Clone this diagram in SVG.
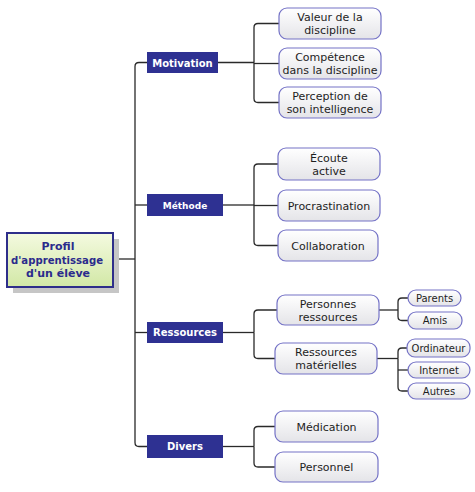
<svg xmlns="http://www.w3.org/2000/svg" width="475" height="492" viewBox="0 0 475 492">
<defs>
<linearGradient id="gRoot" x1="0" y1="0" x2="0" y2="1"><stop offset="0" stop-color="#f4fae0"/><stop offset="1" stop-color="#d2e8a6"/></linearGradient>
<linearGradient id="gSub" x1="0" y1="0" x2="0" y2="1"><stop offset="0" stop-color="#ffffff"/><stop offset="1" stop-color="#e4e4e8"/></linearGradient>
</defs>
<style>
.conn{fill:none;stroke:#2a2a2a;stroke-width:1.3}
.topic rect{fill:#2e3192}
.topic text{fill:#ffffff;font-family:"DejaVu Sans",Verdana,sans-serif;font-weight:bold;font-size:10px;text-anchor:middle}
.sub rect{fill:url(#gSub);stroke:#7472c6;stroke-width:1.2}
.sub text{fill:#1e1e1e;font-family:"DejaVu Sans",Verdana,sans-serif;font-size:11px;text-anchor:middle}
.leaf text{font-size:10px}
</style>
<rect width="475" height="492" fill="#ffffff"/>
<g id="connectors" class="conn">
<path d="M113,259 H135"/>
<path d="M147,62.5 H139 Q135,62.5 135,66.5 V442.5 Q135,446.5 139,446.5 H147"/>
<path d="M135,205 H147"/>
<path d="M135,332.5 H147"/>
<path d="M218,62.5 H254"/>
<path d="M254,62.5 V27.5 Q254,23.5 258,23.5 H279"/>
<path d="M254,63.5 H279"/>
<path d="M254,62.5 V98.5 Q254,102.5 258,102.5 H279"/>
<path d="M223,205 H254"/>
<path d="M254,205 V168 Q254,164 258,164 H278"/>
<path d="M254,205.5 H278"/>
<path d="M254,205 V241.5 Q254,245.5 258,245.5 H278"/>
<path d="M223,332.5 H254"/>
<path d="M254,332.5 V314 Q254,310 258,310 H277"/>
<path d="M254,332.5 V354.5 Q254,358.5 258,358.5 H275"/>
<path d="M223,446.5 H254"/>
<path d="M254,446.5 V430.5 Q254,426.5 258,426.5 H275"/>
<path d="M254,446.5 V463 Q254,467 258,467 H275"/>
<path d="M379,310 H398"/>
<path d="M398,310 V302 Q398,298 402,298 H408"/>
<path d="M398,310 V316.5 Q398,320.5 402,320.5 H408"/>
<path d="M377,358.5 H398"/>
<path d="M398,358.5 V352 Q398,348 402,348 H407"/>
<path d="M398,370 H408"/>
<path d="M398,358.5 V387 Q398,391 402,391 H408"/>
</g>
<g id="root">
<rect x="13" y="239" width="106" height="54" fill="#c6c6c6"/>
<rect x="7" y="233" width="106" height="54" fill="url(#gRoot)" stroke="#2e2e8a" stroke-width="2"/>
<text font-family="&quot;DejaVu Sans&quot;,Verdana,sans-serif" font-weight="bold" font-size="11" fill="#2b2b8c" text-anchor="middle"><tspan x="58" y="250">Profil</tspan><tspan x="57" y="263.5" textLength="92" lengthAdjust="spacingAndGlyphs">d'apprentissage</tspan><tspan x="58" y="277">d'un élève</tspan></text>
</g>
<g id="motivation" class="topic"><rect x="147" y="52" width="71" height="21"/><text x="182.5" y="66.5">Motivation</text></g>
<g id="methode" class="topic"><rect x="147" y="194" width="76" height="22"/><text x="185" y="208.5" style="font-size:9px">Méthode</text></g>
<g id="ressources" class="topic"><rect x="147" y="322" width="76" height="21"/><text x="185" y="336">Ressources</text></g>
<g id="divers" class="topic"><rect x="147" y="435" width="76" height="23"/><text x="185" y="450">Divers</text></g>
<g id="valeur" class="sub"><rect x="279" y="8" width="102" height="31" rx="8"/><text><tspan x="330" y="21">Valeur de la</tspan><tspan x="330" y="34">discipline</tspan></text></g>
<g id="competence" class="sub"><rect x="279" y="48" width="102" height="31" rx="8"/><text><tspan x="330" y="61">Compétence</tspan><tspan x="330" y="74">dans la discipline</tspan></text></g>
<g id="perception" class="sub"><rect x="279" y="87" width="102" height="31" rx="8"/><text><tspan x="330" y="100">Perception de</tspan><tspan x="330" y="113">son intelligence</tspan></text></g>
<g id="ecoute" class="sub"><rect x="278" y="148" width="102" height="32" rx="8"/><text><tspan x="329" y="161.5">Écoute</tspan><tspan x="329" y="174.5">active</tspan></text></g>
<g id="procrastination" class="sub"><rect x="278" y="190" width="102" height="31" rx="8"/><text x="329" y="209.5">Procrastination</text></g>
<g id="collaboration" class="sub"><rect x="278" y="230" width="100" height="31" rx="8"/><text x="328" y="249.5">Collaboration</text></g>
<g id="personnes" class="sub"><rect x="277" y="295" width="102" height="30" rx="8"/><text><tspan x="328" y="307.5">Personnes</tspan><tspan x="328" y="320.5">ressources</tspan></text></g>
<g id="materielles" class="sub"><rect x="275" y="343" width="102" height="31" rx="8"/><text><tspan x="326" y="356">Ressources</tspan><tspan x="326" y="369">matérielles</tspan></text></g>
<g id="medication" class="sub"><rect x="275" y="411" width="103" height="31" rx="8"/><text x="326.5" y="430.5">Médication</text></g>
<g id="personnel" class="sub"><rect x="275" y="452" width="103" height="30" rx="8"/><text x="326.5" y="471">Personnel</text></g>
<g id="parents" class="sub leaf"><rect x="408" y="290" width="53" height="16" rx="8"/><text x="434.5" y="301.5">Parents</text></g>
<g id="amis" class="sub leaf"><rect x="408" y="312" width="54" height="17" rx="8"/><text x="435" y="324">Amis</text></g>
<g id="ordinateur" class="sub leaf"><rect x="407" y="339" width="63" height="18" rx="8"/><text x="438.5" y="351.5">Ordinateur</text></g>
<g id="internet" class="sub leaf"><rect x="408" y="362" width="62" height="16" rx="8"/><text x="439" y="373.5">Internet</text></g>
<g id="autres" class="sub leaf"><rect x="408" y="383" width="62" height="16" rx="8"/><text x="439" y="394.5">Autres</text></g>
</svg>
